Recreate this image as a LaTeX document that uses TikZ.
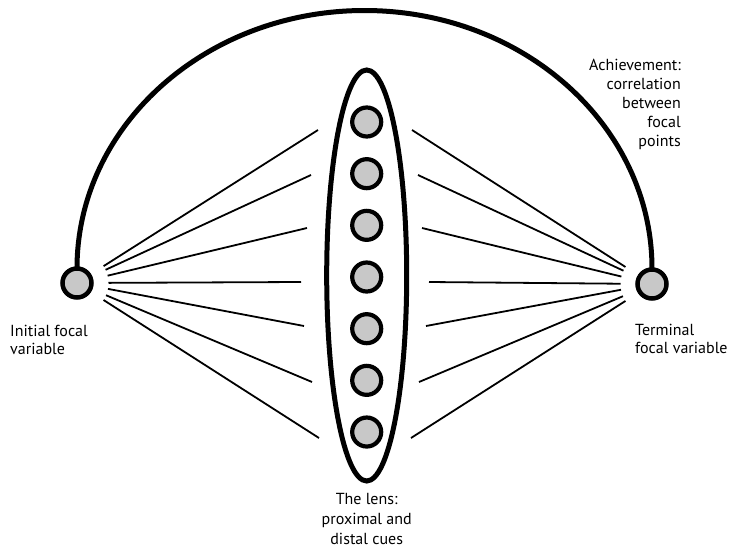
\documentclass[tikz,border=0pt]{standalone}
\usepackage{fontspec}
\setmainfont{PT Sans}
\usepackage{tikz}
\usetikzlibrary{shapes.geometric}
\definecolor{cuegray}{RGB}{200,200,200}

\begin{document}
\begin{tikzpicture}[x=1pt,y=-1pt,
    focal/.style={circle,draw,fill=cuegray,line width=4.5pt,minimum size=29pt,inner sep=0pt,outer sep=0pt},
    cue/.style={circle,draw,fill=cuegray,line width=4.2pt,minimum size=29pt,inner sep=0pt},
    cueline/.style={line width=1.8pt},
    lbl/.style={inner sep=0pt,font=\fontsize{16}{#1}\selectfont}]
    \useasboundingbox (0,0) rectangle (729,549);
    \node[ellipse,draw,line width=5pt,minimum width=80pt,minimum height=411pt,inner sep=0pt] (lens) at (366.7,275.5) {};
    \foreach \i in {1,...,7}{\node[cue] (c\i) at (366.7,{122+51.67*(\i-1)}) {};}
    \node[focal] (ini) at (77,283) {};
    \node[focal] (term) at (652,284) {};
    % cues seen from both ends
    \foreach \x/\y [count=\k] in {318/130,311/175,307/228,301/282,304/326,312/382,319/438}{
      \coordinate (l\k) at (\x,\y);
      \draw[cueline,shorten <=31.5pt] (ini.center) -- (l\k);}
    \foreach \x/\y [count=\k] in {412/130,418/175,422/228,429/282,426/326,419/382,411/438}{
      \coordinate (r\k) at (\x,\y);
      \draw[cueline,shorten <=31.5pt] (term.center) -- (r\k);}
    \draw[line width=5pt] (ini.north) arc[start angle=180,end angle=360,x radius=287.5,y radius=258];
    \node[lbl=18,anchor=north west,align=left] (inilbl) at (10,325) {Initial focal\\variable};
    \node[lbl=18,anchor=north west,align=left] (termlbl) at (635,323.5) {Terminal\\focal variable};
    \node[lbl=20,anchor=north,align=center] (lenslbl) at (366.7,493) {The lens:\\proximal and\\distal cues};
    \node[lbl=19,anchor=north east,align=right] (achlbl) at (681,58.5) {Achievement:\\correlation\\between\\focal\\points};
  \end{tikzpicture}
\end{document}
